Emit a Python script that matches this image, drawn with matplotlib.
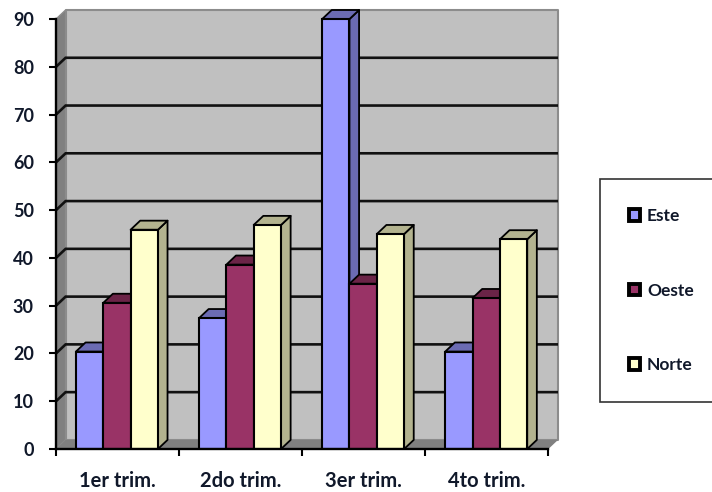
import matplotlib
matplotlib.use("Agg")
import matplotlib.pyplot as plt
from matplotlib.patches import Patch, Polygon

plt.rcParams['font.family'] = ['Lato', 'DejaVu Sans']

categories = ["1er trim.", "2do trim.", "3er trim.", "4to trim."]
este = [20.4, 27.4, 90, 20.4]
oeste = [30.6, 38.6, 34.6, 31.6]
norte = [45.9, 46.9, 45, 43.9]

series = [("Este", este, "#9999FF", "#6B6BB3"),
          ("Oeste", oeste, "#993366", "#6B2447"),
          ("Norte", norte, "#FFFFCC", "#B3B38F")]

# fake 3d depth, in data units
dx = 0.078
dy = 1.9
bar_w = 0.222
gap = 0.162
ymax = 90
ncat = len(categories)
ink = "#10182a"

fig = plt.figure(figsize=(7.12, 4.92), dpi=100)
ax = fig.add_axes([56 / 712, 43 / 492, 502 / 712, 439 / 492])
ax.set_xlim(0, ncat + dx)
ax.set_ylim(0, ymax + dy)
ax.patch.set_visible(False)


def poly(pts, fc, ec="none", lw=0, z=1):
    ax.add_patch(Polygon(pts, closed=True, facecolor=fc, edgecolor=ec,
                         linewidth=lw, zorder=z, joinstyle="round", clip_on=False))


# back wall, side wall, floor
poly([(dx, dy), (ncat + dx, dy), (ncat + dx, ymax + dy), (dx, ymax + dy)],
     "#C0C0C0", "#8c8c8c", 1.5)
poly([(0, 0), (dx, dy), (dx, ymax + dy), (0, ymax)], "#808080", "#8c8c8c", 1)
poly([(0, 0), (dx, dy), (ncat + dx, dy), (ncat, 0)], "#808080")

# gridlines wrap from the side wall onto the back wall
for v in range(10, ymax, 10):
    ax.plot([0, dx, ncat + dx], [v, v + dy, v + dy], color="#111111", lw=1.9,
            zorder=2, solid_joinstyle="miter")

for c in range(ncat):
    for s, (name, vals, front, dark) in enumerate(series):
        v = vals[c]
        x = c + gap + s * bar_w
        poly([(x + bar_w, 0), (x + bar_w + dx, dy), (x + bar_w + dx, v + dy), (x + bar_w, v)],
             dark, "black", 1.3, 3)
        poly([(x, v), (x + dx, v + dy), (x + bar_w + dx, v + dy), (x + bar_w, v)],
             dark, "black", 1.3, 3)
        ax.bar(x, v, bar_w, align="edge", color=front, edgecolor="black", linewidth=1.5, zorder=3)

for side in ["top", "right"]:
    ax.spines[side].set_visible(False)
ax.spines["left"].set_bounds(0, ymax)
ax.spines["bottom"].set_bounds(0, ncat)
for side in ["left", "bottom"]:
    ax.spines[side].set_linewidth(1.7)
    ax.spines[side].set_zorder(4)

ax.set_yticks(range(0, ymax + 1, 10))
ax.tick_params(axis="y", length=5, width=1.5, pad=11, labelsize=13, labelcolor=ink)
for lab in ax.get_yticklabels():
    lab.set_fontweight("bold")

ax.set_xticks(range(ncat + 1))
ax.set_xticklabels([])
ax.set_xticks([c + 0.5 for c in range(ncat)], categories, minor=True)
ax.tick_params(axis="x", which="major", length=5, width=1.5)
ax.tick_params(axis="x", which="minor", length=0, pad=16, labelsize=14.5, labelcolor=ink)
for lab in ax.get_xticklabels(minor=True):
    lab.set_fontweight("bold")

handles = [Patch(facecolor=f, edgecolor="black", linewidth=2.8, label=n) for n, _, f, _ in series]
leg = ax.legend(handles=handles, loc="upper left", bbox_to_anchor=(600 / 712, 1 - 179 / 492),
                bbox_transform=fig.transFigure, borderaxespad=0, borderpad=1.67,
                labelspacing=3.37, handlelength=0.62, handleheight=0.62, handletextpad=0.42,
                fancybox=False, framealpha=1, edgecolor="#333333",
                labelcolor=ink, prop={"size": 12.5, "weight": "bold"})
leg.get_frame().set_linewidth(1.2)

fig.savefig("out.png", dpi=100)
